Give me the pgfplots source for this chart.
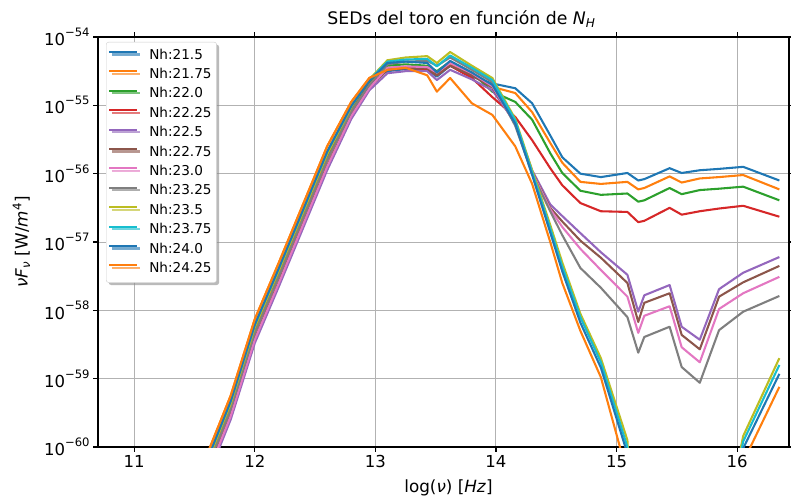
\documentclass[border=0pt]{standalone}
\usepackage{fontspec}
\setmainfont{DejaVu Sans}
\usepackage{pgfplots}
\pgfplotsset{compat=1.18}
\usepackage{pgfplotstable}
\usetikzlibrary{shadows}

\definecolor{C0}{HTML}{1F77B4}
\definecolor{C1}{HTML}{FF7F0E}
\definecolor{C2}{HTML}{2CA02C}
\definecolor{C3}{HTML}{D62728}
\definecolor{C4}{HTML}{9467BD}
\definecolor{C5}{HTML}{8C564B}
\definecolor{C6}{HTML}{E377C2}
\definecolor{C7}{HTML}{7F7F7F}
\definecolor{C8}{HTML}{BCBD22}
\definecolor{C9}{HTML}{17BECF}

\newcommand{\pw}[1]{10\raisebox{0.55em}{\fontsize{11.6}{12}\selectfont −#1}}

% log10 of nu F_nu for each N_H (a=21.5 ... l=24.25)
\pgfplotstableread{
x     a      b      c      d      e      f      g      h      i      j      k      l
11.40 -61.10 -61.00 -61.15 -61.20 -61.35 -61.28 -61.30 -61.20 -61.12 -61.08 -61.08 -61.00
11.60 -60.23 -60.13 -60.28 -60.33 -60.48 -60.41 -60.43 -60.33 -60.25 -60.21 -60.21 -60.13
11.80 -59.35 -59.25 -59.40 -59.45 -59.60 -59.53 -59.55 -59.45 -59.37 -59.33 -59.33 -59.25
12.00 -58.23 -58.13 -58.28 -58.33 -58.48 -58.41 -58.43 -58.33 -58.25 -58.21 -58.21 -58.13
12.20 -57.40 -57.30 -57.45 -57.50 -57.65 -57.58 -57.60 -57.50 -57.42 -57.38 -57.38 -57.30
12.40 -56.55 -56.45 -56.60 -56.65 -56.80 -56.73 -56.75 -56.65 -56.57 -56.53 -56.53 -56.45
12.60 -55.70 -55.60 -55.75 -55.80 -55.95 -55.88 -55.90 -55.80 -55.72 -55.68 -55.68 -55.60
12.80 -55.02 -54.95 -55.06 -55.09 -55.20 -55.15 -55.16 -55.09 -55.03 -55.01 -55.01 -54.95
12.95 -54.65 -54.60 -54.68 -54.70 -54.78 -54.74 -54.75 -54.70 -54.62 -54.63 -54.64 -54.60
13.10 -54.50 -54.45 -54.42 -54.47 -54.53 -54.48 -54.45 -54.40 -54.34 -54.36 -54.38 -54.48
13.25 -54.47 -54.44 -54.40 -54.45 -54.50 -54.46 -54.43 -54.36 -54.30 -54.33 -54.36 -54.45
13.43 -54.48 -54.46 -54.42 -54.47 -54.50 -54.46 -54.44 -54.35 -54.28 -54.32 -54.38 -54.56
13.51 -54.58 -54.56 -54.50 -54.56 -54.63 -54.56 -54.52 -54.42 -54.38 -54.43 -54.52 -54.80
13.62 -54.42 -54.40 -54.36 -54.42 -54.48 -54.42 -54.38 -54.30 -54.22 -54.27 -54.35 -54.60
13.80 -54.58 -54.55 -54.52 -54.60 -54.62 -54.56 -54.53 -54.48 -54.42 -54.45 -54.52 -54.97
13.97 -54.68 -54.73 -54.80 -54.88 -54.78 -54.74 -54.72 -54.66 -54.60 -54.63 -54.70 -55.14
14.16 -54.75 -54.82 -54.95 -55.17 -55.25 -55.27 -55.28 -55.30 -55.20 -55.22 -55.27 -55.60
14.30 -54.97 -55.10 -55.21 -55.51 -55.95 -55.97 -55.98 -56.00 -55.95 -55.98 -56.02 -56.15
14.45 -55.44 -55.55 -55.70 -55.92 -56.45 -56.50 -56.52 -56.55 -56.75 -56.80 -56.86 -57.00
14.55 -55.76 -55.84 -55.99 -56.17 -56.62 -56.70 -56.78 -56.90 -57.30 -57.36 -57.43 -57.60
14.70 -56.00 -56.12 -56.25 -56.43 -56.87 -56.98 -57.10 -57.38 -58.05 -58.10 -58.18 -58.30
14.87 -56.05 -56.15 -56.31 -56.55 -57.15 -57.23 -57.41 -57.67 -58.70 -58.76 -58.84 -58.98
15.09 -55.99 -56.12 -56.29 -56.56 -57.48 -57.60 -57.80 -58.10 -59.90 -60.00 -60.10 -60.40
15.18 -56.10 -56.23 -56.41 -56.71 -58.02 -58.17 -58.33 -58.62 -63.00 -63.00 -63.00 -63.00
15.23 -56.08 -56.21 -56.39 -56.69 -57.78 -57.89 -58.08 -58.39 -63.00 -63.00 -63.00 -63.00
15.44 -55.92 -56.04 -56.21 -56.50 -57.63 -57.75 -57.94 -58.24 -63.00 -63.00 -63.00 -63.00
15.54 -55.99 -56.13 -56.30 -56.60 -58.24 -58.36 -58.54 -58.83 -63.00 -63.00 -63.00 -63.00
15.69 -55.95 -56.07 -56.24 -56.55 -58.43 -58.57 -58.76 -59.06 -63.00 -63.00 -63.00 -63.00
15.85 -55.93 -56.05 -56.22 -56.51 -57.69 -57.80 -57.98 -58.29 -61.60 -61.70 -61.80 -62.00
16.05 -55.90 -56.02 -56.19 -56.47 -57.45 -57.59 -57.75 -58.02 -59.84 -59.92 -60.02 -60.22
16.35 -56.10 -56.23 -56.39 -56.63 -57.22 -57.35 -57.51 -57.79 -58.70 -58.80 -58.93 -59.12
}\sed

\begin{document}
\begin{tikzpicture}
\begin{axis}[
  at={(0,0)}, anchor=south west,
  width=691pt, height=410pt, scale only axis,
  xmin=10.70, xmax=16.43, ymin=-60, ymax=-54,
  xtick={11,12,13,14,15,16},
  ytick={-60,-59,-58,-57,-56,-55,-54},
  yticklabels={\pw{60},\pw{59},\pw{58},\pw{57},\pw{56},\pw{55},\pw{54}},
  /pgf/number format/assume math mode=true,
  grid=major,
  major grid style={color=black!30, line width=1pt},
  axis line style={line width=1.1pt},
  tick align=outside, major tick length=4.9pt,
  every tick/.style={black, line width=1.1pt},
  minor tick num=0,
  tick label style={font=\fontsize{16.5}{19}\selectfont},
  title={SEDs del toro en función de \textit{N}\textsubscript{\textit{H}}},
  title style={font=\fontsize{17.3}{20}\selectfont, yshift=0pt, xshift=18pt},
  xlabel={log(\textit{ν}) [\textit{Hz}]},
  ylabel={\textit{ν}\textit{F}\textsubscript{\textit{ν}} [W/\textit{m}\textsuperscript{4}]},
  label style={font=\fontsize{16.8}{19}\selectfont},
  xlabel style={yshift=-5pt, xshift=5pt},
  ylabel style={yshift=7pt},
  every axis plot/.append style={line width=2.08pt, line join=round, mark=none},
  legend cell align=left,
  legend image code/.code={\draw[#1] (0pt,3.6pt) -- (28pt,3.6pt);},
  legend style={at={(0.0116,0.988)}, anchor=north west,
    draw=black!20, fill=white, rounded corners=2.5pt,
    drop shadow={shadow xshift=2.5pt, shadow yshift=-2.5pt, fill=black!45, opacity=0.6},
    font=\fontsize{13.6}{16}\selectfont,
    inner xsep=2pt, inner ysep=6pt, row sep=4.4pt,
    /tikz/every odd column/.append style={column sep=8pt},
    nodes={inner xsep=3pt, inner ysep=1pt, text height=10pt, text depth=3pt}},
]
\addplot[C0] table[x=x,y=a]{\sed}; \addlegendentry{Nh:21.5}
\addplot[C1] table[x=x,y=b]{\sed}; \addlegendentry{Nh:21.75}
\addplot[C2] table[x=x,y=c]{\sed}; \addlegendentry{Nh:22.0}
\addplot[C3] table[x=x,y=d]{\sed}; \addlegendentry{Nh:22.25}
\addplot[C4] table[x=x,y=e]{\sed}; \addlegendentry{Nh:22.5}
\addplot[C5] table[x=x,y=f]{\sed}; \addlegendentry{Nh:22.75}
\addplot[C6] table[x=x,y=g]{\sed}; \addlegendentry{Nh:23.0}
\addplot[C7] table[x=x,y=h]{\sed}; \addlegendentry{Nh:23.25}
\addplot[C8] table[x=x,y=i]{\sed}; \addlegendentry{Nh:23.5}
\addplot[C9] table[x=x,y=j]{\sed}; \addlegendentry{Nh:23.75}
\addplot[C0] table[x=x,y=k]{\sed}; \addlegendentry{Nh:24.0}
\addplot[C1] table[x=x,y=l]{\sed}; \addlegendentry{Nh:24.25}
\end{axis}
\pgfresetboundingbox
\useasboundingbox (-98pt,-51pt) rectangle (693pt,447pt);
\end{tikzpicture}
\end{document}
